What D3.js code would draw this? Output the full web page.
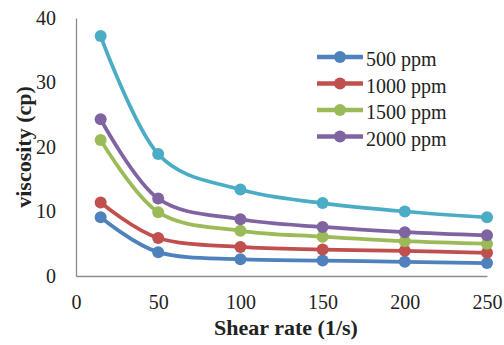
<!DOCTYPE html>
<html>
<head>
<meta charset="utf-8">
<script src="https://cdn.jsdelivr.net/npm/d3@7"></script>
<style>
  body { margin: 0; background: #fff; }
  text { font-family: "Liberation Serif", "Times New Roman", serif; fill: #222; }
</style>
</head>
<body>
<div id="chart"></div>
<script>
var svgWidth = 504;
var svgHeight = 345;

// left axis at x=76, bottom at y=276
var margin = {top: 18, right: 17, bottom: 69, left: 76};
var width = svgWidth - margin.left - margin.right;
var height = svgHeight - margin.top - margin.bottom;

// data
var shearRates = [15, 50, 100, 150, 200, 250];
var seriesNames = ["500 ppm", "1000 ppm", "1500 ppm", "2000 ppm", "2500 ppm"];
var visc500 = [9.1, 3.7, 2.6, 2.4, 2.2, 2.0];
var visc1000 = [11.4, 5.9, 4.5, 4.1, 3.9, 3.6];
var visc1500 = [21.1, 9.9, 7.0, 6.1, 5.4, 5.0];
var visc2000 = [24.3, 12.0, 8.8, 7.6, 6.8, 6.3];
var visc2500 = [37.2, 18.9, 13.4, 11.3, 10.0, 9.1];
var xTicks = [0, 50, 100, 150, 200, 250];
var yTicks = [0, 10, 20, 30, 40];

var colors = ["#4F81BD", "#C0504D", "#9BBB59", "#8064A2", "#4BACC6"];
var allSeries = [visc500, visc1000, visc1500, visc2000, visc2500];

var svg = d3.select("#chart")
  .append("svg")
  .attr("width", svgWidth)
  .attr("height", svgHeight);

var chartGroup = svg.append("g")
  .attr("transform", `translate(${margin.left}, ${margin.top})`);

var xScale = d3.scaleLinear().domain([0, 250]).range([0, width]);
var yScale = d3.scaleLinear().domain([0, 40]).range([height, 0]);

// axes: gray line, no tick marks
var bottomAxis = d3.axisBottom(xScale).tickValues(xTicks).tickSize(0).tickPadding(19);
var leftAxis = d3.axisLeft(yScale).tickValues(yTicks).tickSize(0).tickPadding(20);

var xAxis = chartGroup.append("g")
  .attr("transform", `translate(0, ${height})`)
  .call(bottomAxis);
var yAxis = chartGroup.append("g").call(leftAxis);

[xAxis, yAxis].forEach(function(ax) {
  ax.select(".domain").attr("stroke", "#8c8c8c").attr("stroke-width", 1.3);
  ax.selectAll("text")
    .attr("font-family", "Liberation Serif, serif")
    .attr("font-size", "20px")
    .attr("fill", "#222");
});

var line = d3.line()
  .x((d, i) => xScale(shearRates[i]))
  .y(d => yScale(d))
  .curve(d3.curveCardinal.tension(0));

allSeries.forEach(function(values, k) {
  chartGroup.append("path")
    .datum(values)
    .attr("d", line)
    .attr("fill", "none")
    .attr("stroke", colors[k])
    .attr("stroke-width", 3.75);

  chartGroup.selectAll(".pt" + k)
    .data(values)
    .enter()
    .append("circle")
    .attr("class", "pt" + k)
    .attr("cx", (d, i) => xScale(shearRates[i]))
    .attr("cy", d => yScale(d))
    .attr("r", 6)
    .attr("fill", colors[k]);
});

// legend (only four entries shown)
var legend = svg.append("g").attr("transform", "translate(317, 57)");
seriesNames.slice(0, 4).forEach(function(name, k) {
  var row = legend.append("g").attr("transform", `translate(0, ${k * 26.5})`);
  row.append("line")
    .attr("x1", 0).attr("x2", 46)
    .attr("stroke", colors[k])
    .attr("stroke-width", 4.5);
  row.append("circle")
    .attr("cx", 23).attr("r", 6)
    .attr("fill", colors[k]);
  row.append("text")
    .attr("x", 49)
    .attr("dy", "0.45em")
    .attr("font-size", "20px")
    .text(name);
});

// axis titles
svg.append("text")
  .attr("x", 286)
  .attr("y", 335)
  .attr("text-anchor", "middle")
  .attr("font-size", "22px")
  .attr("font-weight", "bold")
  .text("Shear rate (1/s)");

svg.append("text")
  .attr("transform", `translate(31, 147) rotate(-90)`)
  .attr("text-anchor", "middle")
  .attr("font-size", "22px")
  .attr("font-weight", "bold")
  .text("viscosity (cp)");
</script>
</body>
</html>
